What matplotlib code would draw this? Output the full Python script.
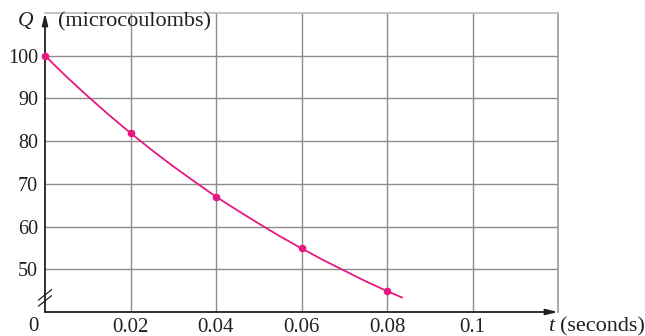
import matplotlib
matplotlib.use("Agg")
import matplotlib.pyplot as plt

# data points (t in seconds, Q in microcoulombs)
t_pts = [0.0, 0.02, 0.04, 0.06, 0.08]
q_pts = [100, 82, 67, 55, 45]

# smooth curve
t_curve = [0.0, 0.005, 0.01, 0.015, 0.02, 0.025, 0.03, 0.035, 0.04, 0.045,
           0.05, 0.055, 0.06, 0.065, 0.07, 0.075, 0.08, 0.0835]
q_curve = [100, 95.1, 90.5, 86.1, 81.9, 77.9, 74.1, 70.5, 67.0, 63.8,
           60.7, 57.7, 54.9, 52.2, 49.7, 47.2, 44.9, 43.4]

xticks = [0.02, 0.04, 0.06, 0.08, 0.1]
xticklabels = ["0.02", "0.04", "0.06", "0.08", "0.1"]
yticks = [50, 60, 70, 80, 90, 100]

plt.rcParams['font.family'] = ['Liberation Serif', 'DejaVu Serif']

fig = plt.figure(figsize=(6.45, 3.36), dpi=100)
W, H = 645, 336
ax = fig.add_axes([45 / W, (H - 312) / H, (558 - 45) / W, (312 - 13) / H])
ax.set_xlim(0, 0.12)
ax.set_ylim(40, 110)

magenta = "#E6197F"
grid_c = "#8C8C8C"
ink = "#231F20"
ax.set_xticks(xticks)
ax.set_xticklabels(xticklabels)
ax.set_yticks(yticks)
ax.tick_params(axis="x", length=0, labelsize=15, pad=4, colors=ink)
ax.tick_params(axis="y", length=0, labelsize=14.5, pad=5, colors=ink)
ax.grid(True, color=grid_c, linewidth=1.0)
ax.set_axisbelow(True)

for s in ["left", "bottom"]:
    ax.spines[s].set_visible(False)
ax.spines["top"].set_color("#BBBBBB")
ax.spines["right"].set_color("#999999")
ax.spines["top"].set_linewidth(1.2)
ax.spines["right"].set_linewidth(1.2)

# axes with arrows
ax.annotate("", xy=(0.12, 40), xytext=(0, 40),
            arrowprops=dict(arrowstyle="-|>,head_length=0.7,head_width=0.17",
                            color=ink, lw=1.3, shrinkA=0, shrinkB=0),
            annotation_clip=False)
ax.annotate("", xy=(0, 110), xytext=(0, 40),
            arrowprops=dict(arrowstyle="-|>,head_length=0.7,head_width=0.17",
                            color=ink, lw=1.3, shrinkA=0, shrinkB=0),
            annotation_clip=False)

# break marks on y axis
for dy in (-0.7, 0.7):
    ax.plot([-0.0015, 0.0015], [43.3 + dy - 1.2, 43.3 + dy + 1.2],
            color=ink, lw=0.9, clip_on=False, zorder=5)

ax.plot(t_curve, q_curve, color=magenta, lw=1.3, zorder=4, clip_on=False)
ax.plot(t_pts, q_pts, "o", color=magenta, ms=4.5, zorder=5, clip_on=False)

ax.text(-0.0028, 36.6, "0", ha="center", va="center", fontsize=15, color=ink)
ax.text(-0.0045, 108.0, "Q", ha="center", va="center", fontsize=15.5,
        style="italic", color=ink)
ax.text(0.003, 108.0, "(microcoulombs)", ha="left", va="center",
        fontsize=16, color=ink)
ax.text(0.1177, 36.6, "t", ha="left", va="center", fontsize=16,
        style="italic", color=ink)
ax.text(0.1205, 36.6, "(seconds)", ha="left", va="center", fontsize=16,
        color=ink)

fig.savefig("out.png", dpi=100)
